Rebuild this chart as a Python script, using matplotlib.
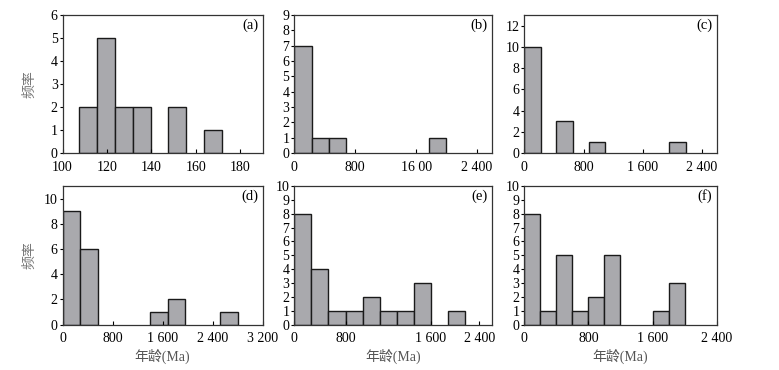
import matplotlib
matplotlib.use("Agg")
import matplotlib.pyplot as plt

plt.rcParams["font.family"] = ["Liberation Serif", "Noto Sans CJK SC"]
plt.rcParams["font.size"] = 10

W, H = 779, 370

# bin left edges, counts, bin widths
a_left = [107.6, 115.6, 123.6, 131.6, 147.6, 163.6]
a_counts = [2, 5, 2, 2, 2, 1]
b_left = [0, 226, 452, 1765]
b_counts = [7, 1, 1, 1]
c_left = [0, 435, 870, 1960]
c_counts = [10, 3, 1, 1]
d_left = [0, 280, 1400, 1680, 2520]
d_counts = [9, 6, 1, 2, 1]
e_left = [0, 200, 400, 600, 800, 1000, 1200, 1400, 1800]
e_counts = [8, 4, 1, 1, 2, 1, 1, 3, 1]
f_left = [0, 200, 400, 600, 800, 1000, 1600, 1800]
f_counts = [8, 1, 5, 1, 2, 5, 1, 3]
widths = [8, 226, 220, 280, 200, 200]

a_xticks, a_xlabels = [100, 120, 140, 160, 180], ["100", "120", "140", "160", "180"]
b_xticks, b_xlabels = [0, 800, 1600, 2400], ["0", "800", "16 00", "2 400"]
c_xticks, c_xlabels = [0, 800, 1600, 2400], ["0", "800", "1 600", "2 400"]
d_xticks, d_xlabels = [0, 800, 1600, 2400, 3200], ["0", "800", "1 600", "2 400", "3 200"]
e_xticks, e_xlabels = [0, 600, 1600, 2165], ["0", "800", "1 600", "2 400"]
f_xticks, f_xlabels = [0, 800, 1600, 2400], ["0", "800", "1 600", "2 400"]

panels = [
    ("(a)", a_left, a_counts, (100, 190), (0, 6), range(0, 7), a_xticks, a_xlabels),
    ("(b)", b_left, b_counts, (0, 2600), (0, 9), range(0, 10), b_xticks, b_xlabels),
    ("(c)", c_left, c_counts, (0, 2600), (0, 13), range(0, 13, 2), c_xticks, c_xlabels),
    ("(d)", d_left, d_counts, (0, 3200), (0, 11), range(0, 11, 2), d_xticks, d_xlabels),
    ("(e)", e_left, e_counts, (0, 2317), (0, 10), range(0, 11), e_xticks, e_xlabels),
    ("(f)", f_left, f_counts, (0, 2400), (0, 10), range(0, 11), f_xticks, f_xlabels),
]

# axes boxes in pixels: left, right, top, bottom
cols = [(62.5, 262.5), (294.3, 492.3), (524.3, 716.7)]
rows = [(15, 153), (186, 324.5)]

fig = plt.figure(figsize=(W / 100, H / 100), dpi=100)

for i, (tag, left, counts, xlim, ylim, yt, xt, xl) in enumerate(panels):
    r, c = divmod(i, 3)
    x0, x1 = cols[c]
    y0, y1 = rows[r]
    ax = fig.add_axes([x0 / W, 1 - y1 / H, (x1 - x0) / W, (y1 - y0) / H])
    ax.bar(left, counts, width=widths[i], align="edge",
           color="#a9a9ad", edgecolor="#1a1a1a", linewidth=1.0)
    ax.set_xlim(*xlim)
    ax.set_ylim(*ylim)
    ax.set_yticks(list(yt))
    ax.set_xticks(xt)
    ax.set_xticklabels(xl)
    ax.tick_params(axis="x", direction="in", length=3, width=0.8, pad=5.5, labelsize=10)
    ax.tick_params(axis="y", direction="out", length=2.5, width=0.8, pad=1, labelsize=10)
    for lab in ax.get_yticklabels():
        lab.set_verticalalignment("center_baseline")
    for s in ax.spines.values():
        s.set_linewidth(0.9)
        s.set_color("#333333")
    ax.text(0.978, 0.928, tag, transform=ax.transAxes, ha="right", va="center",
            fontsize=10.5)
    if c == 0:
        ax.set_ylabel("频率", color="#777777", fontsize=10,
                      family=["Noto Sans CJK SC"])
        ax.yaxis.set_label_coords(-0.13, 0.5)
    if r == 1:
        ax.set_xlabel("年龄(Ma)", color="#555555", fontsize=10)
        ax.xaxis.set_label_coords(0.5, -0.175)

fig.savefig("out.png", dpi=100)
